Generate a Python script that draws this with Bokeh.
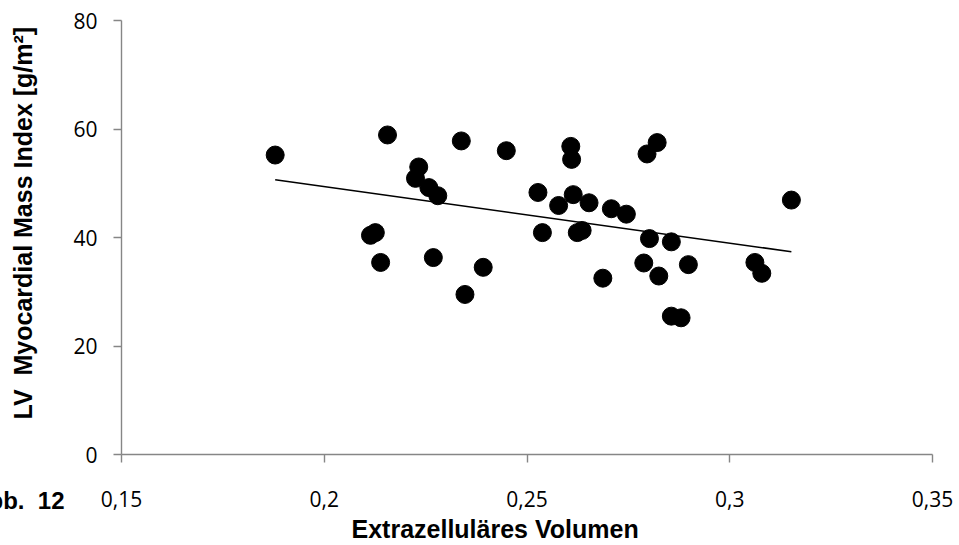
import numpy as np
from bokeh.plotting import figure
from bokeh.models import Range1d, FixedTicker, Title
from bokeh.embed import file_html
from bokeh.resources import INLINE

# Extracellular volume fraction vs. LV myocardial mass index (one point per subject)
ecv = [0.1879, 0.2156, 0.2233, 0.2225, 0.2258, 0.2280, 0.2126, 0.2114, 0.2139, 0.2269,
       0.2338, 0.2449, 0.2608, 0.2610, 0.2821, 0.2796, 0.2527, 0.2578, 0.2614, 0.2653,
       0.2708, 0.2745, 0.2538, 0.2624, 0.2636, 0.2802, 0.2856, 0.2392, 0.2347, 0.2687,
       0.2788, 0.2825, 0.2898, 0.2856, 0.2880, 0.3152, 0.3062, 0.3079]
lvmi = [55.2, 58.9, 53.0, 50.9, 49.2, 47.7, 40.9, 40.4, 35.4, 36.3,
        57.8, 56.0, 56.8, 54.4, 57.5, 55.4, 48.3, 45.9, 47.9, 46.4,
        45.3, 44.3, 40.9, 40.9, 41.3, 39.8, 39.2, 34.5, 29.5, 32.5,
        35.3, 32.9, 35.0, 25.5, 25.2, 46.9, 35.4, 33.4]

x_ticks = [0.15, 0.2, 0.25, 0.3, 0.35]
x_tick_labels = ["0,15", "0,2", "0,25", "0,3", "0,35"]
y_ticks = [0, 20, 40, 60, 80]

x_title = "Extrazelluläres Volumen"
y_title = "LV \u00a0Myocardial Mass Index [g/m²]"
caption = "Abb. \u00a012"

AXIS_GREY = "#868686"
TICK_FONT = "Open Sans"
TITLE_FONT = "Liberation Sans"

p = figure(width=959, height=545, output_backend="svg", toolbar_location=None,
           x_range=Range1d(0.15, 0.35), y_range=Range1d(0, 80),
           min_border_left=121, min_border_right=27, min_border_top=20, min_border_bottom=91,
           background_fill_color="white", border_fill_color="white")
p.outline_line_color = None
p.grid.visible = False

for ax in (p.xaxis[0], p.yaxis[0]):
    ax.axis_line_color = AXIS_GREY
    ax.axis_line_width = 1.4
    ax.major_tick_line_color = AXIS_GREY
    ax.major_tick_line_width = 1.4
    ax.major_tick_in = 0
    ax.major_tick_out = 8
    ax.minor_tick_line_color = None
    ax.major_label_text_font = TICK_FONT
    ax.major_label_text_font_size = "21px"
    ax.major_label_text_color = "black"

p.xaxis.ticker = FixedTicker(ticks=x_ticks)
p.xaxis.major_label_overrides = dict(zip(x_ticks, x_tick_labels))
p.xaxis.major_label_standoff = 28
p.yaxis.ticker = FixedTicker(ticks=y_ticks)
p.yaxis.major_label_standoff = 16

# data points
p.scatter(ecv, lvmi, size=18, color="black")

# linear trend line over the observed range
slope, intercept = np.polyfit(ecv, lvmi, 1)
tx = np.array([min(ecv), max(ecv)])
p.line(tx, slope * tx + intercept, line_color="black", line_width=1.5)

# axis titles, each pushed outward by a blank gap panel
title_style = dict(text_font=TITLE_FONT, text_font_style="bold",
                   text_font_size="25px", text_color="black")
p.add_layout(Title(text="\u00a0", text_font_size="1px", standoff=0.3), "below")
p.add_layout(Title(text=x_title, align="left", offset=230, standoff=0, **title_style), "below")
p.add_layout(Title(text="\u00a0", text_font_size="1px", standoff=31.2), "left")
p.add_layout(Title(text=y_title, align="left", offset=35, standoff=0, **title_style), "left")

# figure caption, pulled back up level with the x tick labels at the far left
p.add_layout(Title(text=caption, align="right", offset=868, vertical_align="top", standoff=-112,
                   text_font=TITLE_FONT, text_font_style="bold", text_font_size="24px",
                   text_color="black"), "below")

open("out.html", "w").write(file_html(p, INLINE))
